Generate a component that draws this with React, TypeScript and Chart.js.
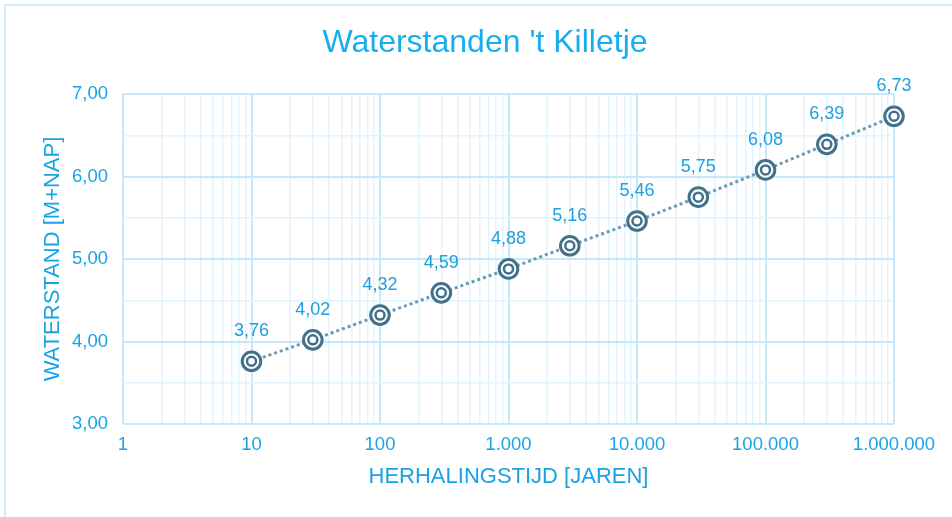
import React, { useEffect, useRef } from 'react';
import { Chart, registerables } from 'chart.js';

Chart.register(...registerables);

// ---- data ----
const returnPeriods = [10, 30, 100, 300, 1000, 3000, 10000, 30000, 100000, 300000, 1000000];
const waterLevels = [3.76, 4.02, 4.32, 4.59, 4.88, 5.16, 5.46, 5.75, 6.08, 6.39, 6.73];
const pointLabels = ['3,76', '4,02', '4,32', '4,59', '4,88', '5,16', '5,46', '5,75', '6,08', '6,39', '6,73'];
const xTickValues = [1, 10, 100, 1000, 10000, 100000, 1000000];
const xTickLabels = ['1', '10', '100', '1.000', '10.000', '100.000', '1.000.000'];
const yTickValues = [3, 4, 5, 6, 7];
const yTickLabels = ['3,00', '4,00', '5,00', '6,00', '7,00'];

const chartTitle = "Waterstanden 't Killetje";
const xTitle = 'HERHALINGSTIJD [JAREN]';
const yTitle = 'WATERSTAND [M+NAP]';

// ---- styles ----
const FONT = '"Liberation Sans", Arial, sans-serif';
const TITLE_COLOR = '#16aef1';
const TEXT_COLOR = '#18a3e6';
const LABEL_COLOR = '#1c9fdf';
const GRID_MAJOR = '#c6e8fb';
const GRID_MINOR = '#e2f4fd';
const MARKER_COLOR = '#41718b';
const LINE_COLOR = '#6a9bb6';

const pointLabelPlugin = {
  id: 'pointLabelPlugin',
  afterDatasetsDraw(chart: any) {
    const meta = chart.getDatasetMeta(0);
    const ctx = chart.ctx;
    ctx.save();
    ctx.font = `18px ${FONT}`;
    ctx.fillStyle = LABEL_COLOR;
    ctx.textAlign = 'center';
    ctx.textBaseline = 'middle';
    meta.data.forEach((pt: any, i: number) => {
      ctx.fillText(pointLabels[i], pt.x, pt.y - 30);
    });
    ctx.restore();
  },
};

const frameBorderPlugin = {
  id: 'frameBorderPlugin',
  beforeDraw(chart: any) {
    const ctx = chart.ctx;
    ctx.save();
    ctx.strokeStyle = '#cdedfd';
    ctx.lineWidth = 2;
    ctx.beginPath();
    ctx.moveTo(5, chart.height);
    ctx.lineTo(5, 5);
    ctx.lineTo(chart.width, 5);
    ctx.stroke();
    ctx.restore();
  },
};

export default function App() {
  const canvasRef = useRef<HTMLCanvasElement | null>(null);

  useEffect(() => {
    if (!canvasRef.current) return;
    const points = returnPeriods.map((x, i) => ({ x, y: waterLevels[i] }));

    const chart = new Chart(canvasRef.current, {
      type: 'line',
      data: {
        datasets: [
          {
            data: points,
            order: 1,
            clip: false,
            borderColor: LINE_COLOR,
            borderWidth: 3,
            borderDash: [3, 3],
            borderCapStyle: 'butt',
            tension: 0,
            pointRadius: 9.3,
            pointBorderWidth: 3,
            pointBorderColor: MARKER_COLOR,
            pointBackgroundColor: '#ffffff',
          },
          {
            data: points,
            order: 0,
            clip: false,
            showLine: false,
            pointRadius: 4.5,
            pointBorderWidth: 2.5,
            pointBorderColor: MARKER_COLOR,
            pointBackgroundColor: '#ffffff',
          },
        ],
      },
      options: {
        responsive: false,
        animation: false,
        devicePixelRatio: 1,
        events: [],
        layout: { padding: { left: 18, right: 0, top: 0, bottom: 0 } },
        plugins: {
          legend: { display: false },
          tooltip: { enabled: false },
          title: {
            display: true,
            text: chartTitle,
            color: TITLE_COLOR,
            font: { family: FONT, size: 32, weight: 'normal' },
            padding: { top: 23.8, bottom: 31.8 },
          },
        },
        scales: {
          x: {
            type: 'logarithmic',
            min: 1,
            max: 1000000,
            border: { display: false },
            afterBuildTicks: (scale: any) => {
              const ticks: any[] = [];
              xTickValues.forEach((v, i) => {
                ticks.push({ value: v });
                if (i < xTickValues.length - 1) {
                  for (let m = 2; m <= 9; m++) ticks.push({ value: v * m });
                }
              });
              scale.ticks = ticks;
            },
            afterFit: (scale: any) => {
              scale.height = 93;
              scale.paddingLeft = 0;
              scale.paddingRight = 58;
            },
            grid: {
              drawTicks: false,
              color: (c: any) => (c.tick && xTickValues.includes(c.tick.value) ? GRID_MAJOR : GRID_MINOR),
              lineWidth: (c: any) => (c.tick && xTickValues.includes(c.tick.value) ? 2 : 1.5),
            },
            ticks: {
              autoSkip: false,
              maxRotation: 0,
              padding: 10,
              color: TEXT_COLOR,
              font: { family: FONT, size: 18.5 },
              callback: (value: any) => {
                const i = xTickValues.indexOf(Number(value));
                return i >= 0 ? xTickLabels[i] : '';
              },
            },
            title: {
              display: true,
              text: xTitle,
              color: TEXT_COLOR,
              font: { family: FONT, size: 22 },
              padding: { top: 0, bottom: 27 },
            },
          },
          y: {
            type: 'linear',
            min: 3,
            max: 7,
            border: { display: false },
            afterBuildTicks: (scale: any) => {
              const ticks: any[] = [];
              yTickValues.forEach((v, i) => {
                ticks.push({ value: v });
                if (i < yTickValues.length - 1) ticks.push({ value: (v + yTickValues[i + 1]) / 2 });
              });
              scale.ticks = ticks;
            },
            afterFit: (scale: any) => {
              scale.width = 105;
              scale.paddingTop = 0;
              scale.paddingBottom = 0;
            },
            grid: {
              drawTicks: false,
              color: (c: any) => (c.tick && yTickValues.includes(c.tick.value) ? GRID_MAJOR : GRID_MINOR),
              lineWidth: (c: any) => (c.tick && yTickValues.includes(c.tick.value) ? 2 : 1.5),
            },
            ticks: {
              autoSkip: false,
              padding: 15,
              color: TEXT_COLOR,
              font: { family: FONT, size: 18.5 },
              callback: (value: any) => {
                const i = yTickValues.indexOf(Number(value));
                return i >= 0 ? yTickLabels[i] : '';
              },
            },
            title: {
              display: true,
              text: yTitle,
              color: TEXT_COLOR,
              font: { family: FONT, size: 22 },
              padding: { top: 22, bottom: 0 },
            },
          },
        },
      },
      plugins: [frameBorderPlugin, pointLabelPlugin],
    } as any);

    return () => chart.destroy();
  }, []);

  return (
    <div style={{ position: 'fixed', left: 0, top: 0, width: 952, height: 517, background: '#ffffff' }}>
      <canvas ref={canvasRef} width={952} height={517} style={{ display: 'block', width: 952, height: 517 }} />
    </div>
  );
}
